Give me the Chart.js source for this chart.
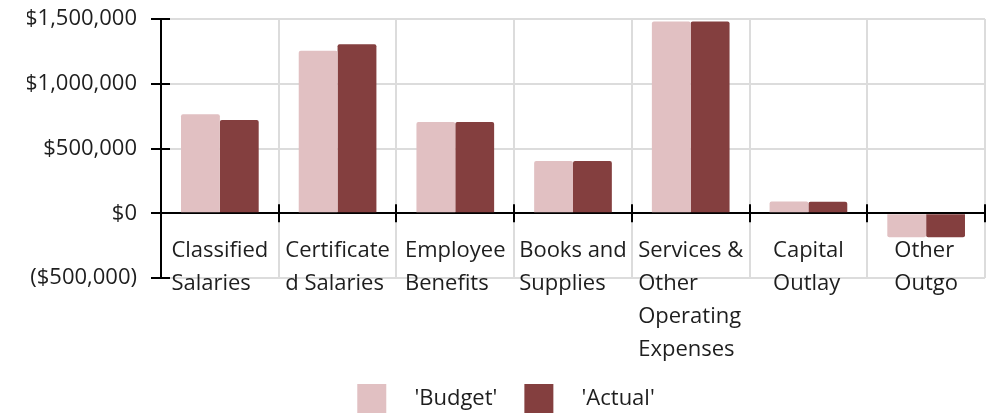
<!DOCTYPE html>
<html>
<head>
<meta charset="utf-8">
<script src="https://cdn.jsdelivr.net/npm/chart.js@4/dist/chart.umd.min.js"></script>
<style>
  html, body { margin: 0; padding: 0; background: #fff; }
  #wrap { width: 992px; height: 418px; }
</style>
</head>
<body>
<div id="wrap"><canvas id="myChart"></canvas></div>
<script>
const categories = [
  ['Classified', 'Salaries'],
  ['Certificate', 'd Salaries'],
  ['Employee', 'Benefits'],
  ['Books and', 'Supplies'],
  ['Services &', 'Other', 'Operating', 'Expenses'],
  ['Capital', 'Outlay'],
  ['Other', 'Outgo']
];
const seriesNames = ["'Budget'", "'Actual'"];
const budget = [765000, 1255000, 705000, 404000, 1480000, 90000, -185000];
const actual = [720000, 1305000, 705000, 404000, 1480000, 88000, -185000];
const yTicks = [-500000, 0, 500000, 1000000, 1500000];

const FONT = '"Open Sans", "Noto Sans", sans-serif';
const FONT_SIZE = 22;
const TEXT = '#1e1e1e';

function money(v) {
  var s = '$' + Math.abs(v).toLocaleString('en-US');
  return v < 0 ? '(' + s + ')' : s;
}

// category labels sit under the zero line, lines left aligned, block centred
// on the category; axis ticks cross the axis lines on both sides
const axisDecor = {
  id: 'axisDecor',
  afterDraw(chart) {
    const ctx = chart.ctx;
    const x = chart.scales.x, y = chart.scales.y;
    const zeroY = y.getPixelForValue(0);
    const area = chart.chartArea;
    ctx.save();
    ctx.strokeStyle = '#000';
    ctx.lineWidth = 2;
    ctx.beginPath();
    const step = (area.right - area.left) / categories.length;
    for (let i = 1; i <= categories.length; i++) {
      const px = Math.round(area.left + i * step);
      ctx.moveTo(px, zeroY - 9);
      ctx.lineTo(px, zeroY + 9);
    }
    yTicks.forEach(function (v) {
      const py = Math.round(y.getPixelForValue(v));
      ctx.moveTo(area.left, py);
      ctx.lineTo(area.left + 9, py);
    });
    ctx.stroke();

    ctx.font = FONT_SIZE + 'px ' + FONT;
    ctx.fillStyle = TEXT;
    ctx.textAlign = 'left';
    ctx.textBaseline = 'alphabetic';
    categories.forEach(function (lines, i) {
      const cx = x.getPixelForValue(i);
      const w = Math.max.apply(null, lines.map(function (l) { return ctx.measureText(l).width; }));
      lines.forEach(function (l, j) {
        ctx.fillText(l, cx - w / 2, zeroY + 44 + j * 33);
      });
    });
    ctx.restore();
  }
};

const config = {
  type: 'bar',
  data: {
    labels: categories,
    datasets: [{
      label: seriesNames[0],
      data: budget,
      backgroundColor: '#e1c0c2',
      borderRadius: 2
    }, {
      label: seriesNames[1],
      data: actual,
      backgroundColor: '#843f3f',
      borderRadius: 2
    }]
  },
  options: {
    responsive: true,
    maintainAspectRatio: false,
    animation: false,
    categoryPercentage: 0.66,
    barPercentage: 1.0,
    layout: {
      padding: { left: 27, right: 7, top: 19, bottom: -5 }
    },
    scales: {
      x: {
        position: { y: 0 },
        z: 1,
        grid: { color: '#dcdcdc', lineWidth: 2, drawTicks: false },
        border: { color: '#000', width: 2 },
        ticks: { display: false }
      },
      y: {
        min: -500000,
        max: 1500000,
        afterBuildTicks(scale) {
          scale.ticks = yTicks.map(function (v) { return { value: v }; });
        },
        afterFit(scale) {
          scale.width = 134;
          scale.paddingTop = 0;
        },
        grid: { color: '#dcdcdc', lineWidth: 2, tickColor: '#000', tickLength: 10, tickWidth: 2 },
        border: { color: '#000', width: 2 },
        ticks: {
          padding: 14,
          color: TEXT,
          font: { family: FONT, size: FONT_SIZE },
          callback: function (v) { return money(v); }
        }
      }
    },
    plugins: {
      tooltip: { enabled: false },
      legend: {
        position: 'bottom',
        title: {
          // spacer for the category labels drawn below the zero line
          display: true,
          text: '',
          font: { size: 10, lineHeight: 1 },
          padding: { top: 69, bottom: 0 }
        },
        labels: {
          boxWidth: 29,
          boxHeight: 29,
          padding: 27,
          color: TEXT,
          font: { family: FONT, size: FONT_SIZE },
          generateLabels(chart) {
            return Chart.defaults.plugins.legend.labels.generateLabels(chart).map(function (item) {
              item.text = '   ' + item.text;
              item.lineWidth = 0;
              return item;
            });
          }
        }
      }
    }
  },
  plugins: [axisDecor]
};

var myChart = new Chart(document.getElementById('myChart'), config);
</script>
</body>
</html>
